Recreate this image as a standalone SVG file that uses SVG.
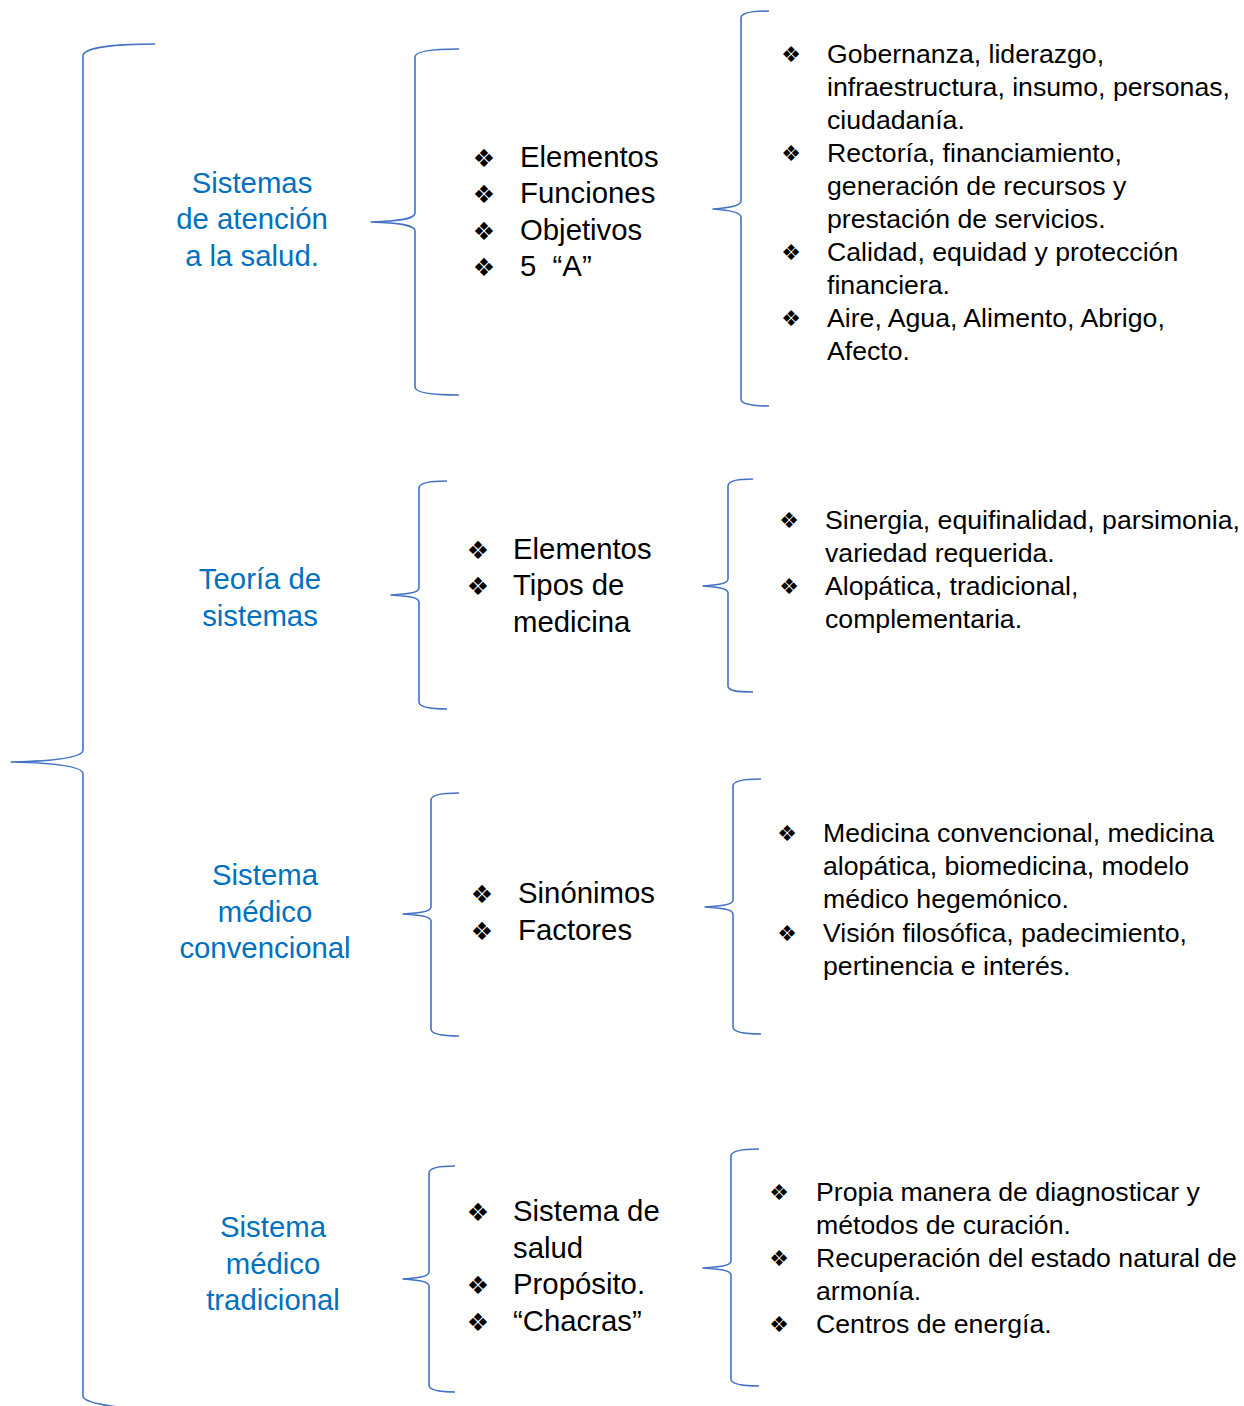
<svg xmlns="http://www.w3.org/2000/svg" width="1244" height="1406" viewBox="0 0 1244 1406">
<style>
.br{fill:none;stroke:#4472C4;stroke-width:1.6;stroke-linejoin:round}
.lab{font-family:"Liberation Sans",Arial,sans-serif;font-size:29.33px;fill:#0070C0;text-anchor:middle}
.mid{font-family:"Liberation Sans",Arial,sans-serif;font-size:29.33px;fill:#000}
.rt{font-family:"Liberation Sans",Arial,sans-serif;font-size:26.67px;fill:#000}
.bm{font-family:"DejaVu Sans",sans-serif;font-size:25px;fill:#000;text-anchor:middle}
.bs{font-family:"DejaVu Sans",sans-serif;font-size:22px;fill:#000;text-anchor:middle}
</style>
<rect width="1244" height="1406" fill="#fff"/>
<g id="connectors">
<path class="br" d="M155,44 C118,44 83,47 83,56 L83,750 C83,757 58,761 11,762 C58,763 83,767 83,774 L83,1396 C83,1403 118,1409 155,1409"/>
<path class="br" d="M459,49 C435,49 415,51 415,57 L415,213 C415,219 400,221 371,222 C400,223 415,225 415,231 L415,387 C415,393 435,395 459,395"/>
<path class="br" d="M769,11 C752,11 741,13 741,18 L741,201 C741,206 728,208 713,209 C728,210 741,212 741,217 L741,399 C741,404 752,406 769,406"/>
<path class="br" d="M447,481 C430,481 419,483 419,488 L419,588 C419,593 406,594 391,595 C406,596 419,597 419,602 L419,702 C419,707 430,709 447,709"/>
<path class="br" d="M753,479 C738,479 728,481 728,486 L728,579 C728,584 716,585 703,586 C716,587 728,588 728,593 L728,686 C728,691 738,692 753,692"/>
<path class="br" d="M459,793 C442,793 431,795 431,800 L431,907 C431,912 418,913 403,914 C418,915 431,916 431,921 L431,1029 C431,1034 442,1036 459,1036"/>
<path class="br" d="M761,779 C744,779 733,781 733,786 L733,900 C733,905 720,906 705,907 C720,908 733,909 733,914 L733,1027 C733,1032 744,1034 761,1034"/>
<path class="br" d="M455,1166 C440,1166 429,1168 429,1173 L429,1272 C429,1277 416,1278 403,1279 C416,1280 429,1281 429,1286 L429,1385 C429,1390 440,1392 455,1392"/>
<path class="br" d="M759,1149 C742,1149 731,1151 731,1156 L731,1261 C731,1266 718,1267 703,1268 C718,1269 731,1270 731,1275 L731,1379 C731,1384 742,1386 759,1386"/>
</g>

<g id="label-1">
<text class="lab" x="252" y="193">Sistemas</text>
<text class="lab" x="252" y="229">de atención</text>
<text class="lab" x="252" y="266">a la salud.</text>
</g>
<g id="list-1">
<text class="bm" x="484" y="167">❖</text><text class="mid" x="520" y="167">Elementos</text>
<text class="bm" x="484" y="203">❖</text><text class="mid" x="520" y="203">Funciones</text>
<text class="bm" x="484" y="240">❖</text><text class="mid" x="520" y="240">Objetivos</text>
<text class="bm" x="484" y="276">❖</text><text class="mid" x="520" y="276" xml:space="preserve">5  “A”</text>
</g>
<g id="detail-1">
<text class="bs" x="791" y="62">❖</text><text class="rt" x="827" y="63">Gobernanza, liderazgo,</text>
<text class="rt" x="827" y="96">infraestructura, insumo, personas,</text>
<text class="rt" x="827" y="129">ciudadanía.</text>
<text class="bs" x="791" y="161">❖</text><text class="rt" x="827" y="162">Rectoría, financiamiento,</text>
<text class="rt" x="827" y="195">generación de recursos y</text>
<text class="rt" x="827" y="228">prestación de servicios.</text>
<text class="bs" x="791" y="260">❖</text><text class="rt" x="827" y="261">Calidad, equidad y protección</text>
<text class="rt" x="827" y="294">financiera.</text>
<text class="bs" x="791" y="326">❖</text><text class="rt" x="827" y="327">Aire, Agua, Alimento, Abrigo,</text>
<text class="rt" x="827" y="360">Afecto.</text>
</g>

<g id="label-2">
<text class="lab" x="260" y="589">Teoría de</text>
<text class="lab" x="260" y="626">sistemas</text>
</g>
<g id="list-2">
<text class="bm" x="478" y="559">❖</text><text class="mid" x="513" y="559">Elementos</text>
<text class="bm" x="478" y="595">❖</text><text class="mid" x="513" y="595">Tipos de</text>
<text class="mid" x="513" y="632">medicina</text>
</g>
<g id="detail-2">
<text class="bs" x="789" y="528">❖</text><text class="rt" x="825" y="529">Sinergia, equifinalidad, parsimonia,</text>
<text class="rt" x="825" y="562">variedad requerida.</text>
<text class="bs" x="789" y="594">❖</text><text class="rt" x="825" y="595">Alopática, tradicional,</text>
<text class="rt" x="825" y="628">complementaria.</text>
</g>

<g id="label-3">
<text class="lab" x="265" y="885">Sistema</text>
<text class="lab" x="265" y="922">médico</text>
<text class="lab" x="265" y="958">convencional</text>
</g>
<g id="list-3">
<text class="bm" x="482" y="903">❖</text><text class="mid" x="518" y="903">Sinónimos</text>
<text class="bm" x="482" y="940">❖</text><text class="mid" x="518" y="940">Factores</text>
</g>
<g id="detail-3">
<text class="bs" x="787" y="841">❖</text><text class="rt" x="823" y="842">Medicina convencional, medicina</text>
<text class="rt" x="823" y="875">alopática, biomedicina, modelo</text>
<text class="rt" x="823" y="908">médico hegemónico.</text>
<text class="bs" x="787" y="941">❖</text><text class="rt" x="823" y="942">Visión filosófica, padecimiento,</text>
<text class="rt" x="823" y="975">pertinencia e interés.</text>
</g>

<g id="label-4">
<text class="lab" x="273" y="1237">Sistema</text>
<text class="lab" x="273" y="1274">médico</text>
<text class="lab" x="273" y="1310">tradicional</text>
</g>
<g id="list-4">
<text class="bm" x="478" y="1221">❖</text><text class="mid" x="513" y="1221">Sistema de</text>
<text class="mid" x="513" y="1258">salud</text>
<text class="bm" x="478" y="1294">❖</text><text class="mid" x="513" y="1294">Propósito.</text>
<text class="bm" x="478" y="1331">❖</text><text class="mid" x="513" y="1331">“Chacras”</text>
</g>
<g id="detail-4">
<text class="bs" x="779" y="1200">❖</text><text class="rt" x="816" y="1201">Propia manera de diagnosticar y</text>
<text class="rt" x="816" y="1234">métodos de curación.</text>
<text class="bs" x="779" y="1266">❖</text><text class="rt" x="816" y="1267">Recuperación del estado natural de</text>
<text class="rt" x="816" y="1300">armonía.</text>
<text class="bs" x="779" y="1332">❖</text><text class="rt" x="816" y="1333">Centros de energía.</text>
</g>
</svg>
